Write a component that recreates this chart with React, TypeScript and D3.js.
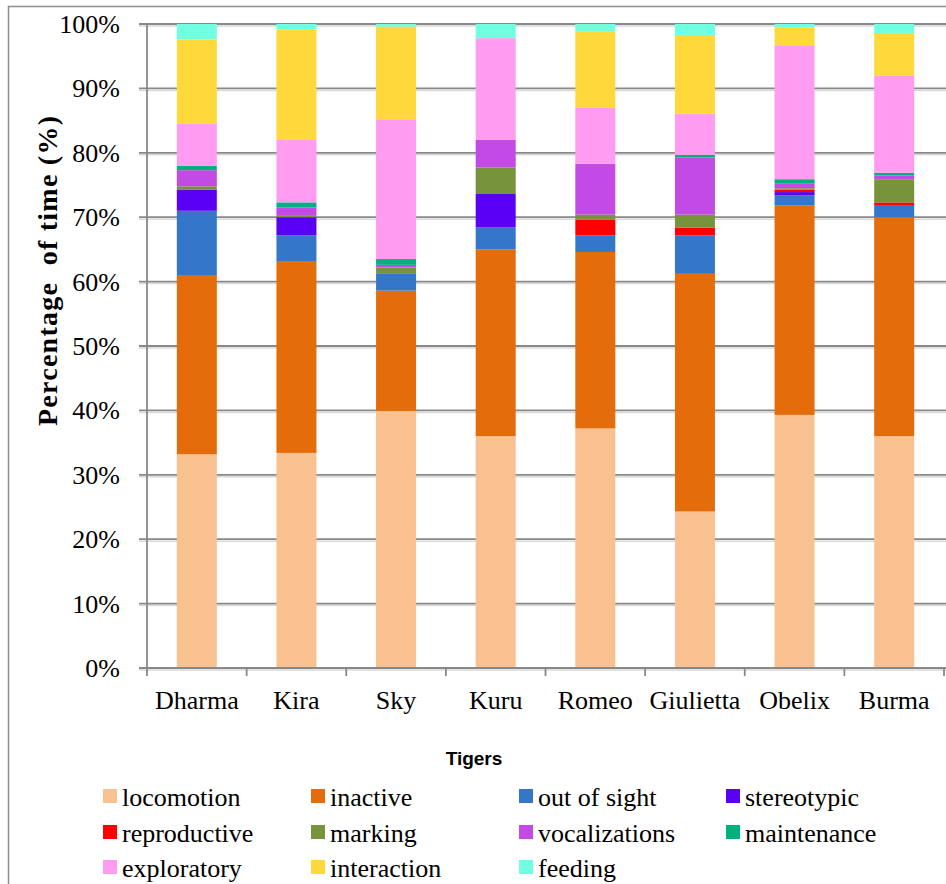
import React from "react";
import * as d3 from "d3";

// Tigers along the x axis
const tigers = ["Dharma", "Kira", "Sky", "Kuru", "Romeo", "Giulietta", "Obelix", "Burma"];

// Percentage of time per behaviour, one value per tiger (same order as `tigers`)
const locomotion = [33.2, 33.4, 39.9, 36.0, 37.2, 24.3, 39.3, 36.0];
const inactive = [27.7, 29.8, 18.7, 29.0, 27.4, 36.9, 32.5, 34.0];
const outOfSight = [10.1, 4.0, 2.7, 3.4, 2.6, 6.0, 1.6, 1.9];
const stereotypic = [3.3, 2.8, 0, 5.2, 0, 0, 0.5, 0];
const reproductive = [0, 0, 0, 0, 2.4, 1.2, 0.4, 0.4];
const marking = [0.5, 0.2, 0.9, 4.1, 0.8, 2.0, 0.2, 3.6];
const vocalizations = [2.5, 1.3, 0.4, 4.3, 7.9, 8.9, 0.7, 0.6];
const maintenance = [0.7, 0.8, 0.9, 0, 0, 0.4, 0.7, 0.4];
const exploratory = [6.5, 9.7, 21.7, 15.8, 8.7, 6.4, 20.8, 15.1];
const interaction = [13.1, 17.2, 14.4, 0, 11.9, 12.2, 2.8, 6.6];
const feeding = [2.4, 0.8, 0.4, 2.2, 1.1, 1.7, 0.5, 1.4];

const seriesNames = [
  "locomotion", "inactive", "out of sight", "stereotypic", "reproductive", "marking",
  "vocalizations", "maintenance", "exploratory", "interaction", "feeding",
];
const seriesValues = [
  locomotion, inactive, outOfSight, stereotypic, reproductive, marking,
  vocalizations, maintenance, exploratory, interaction, feeding,
];
const seriesColors = [
  "#F9C090", "#E46C0A", "#3477C8", "#5A00F5", "#FF0000", "#77933C",
  "#C44AE6", "#00B07E", "#FF9CF1", "#FFD83B", "#70FFE0",
];

const yTicks = [0, 10, 20, 30, 40, 50, 60, 70, 80, 90, 100];

const W = 946;
const H = 884;
const plotLeft = 147;
const plotRight = 944;
const serif = "'Liberation Serif', 'Times New Roman', serif";

export default function App() {
  const x = d3.scaleBand<string>().domain(tigers).range([plotLeft, plotRight]);
  const y = d3.scaleLinear().domain([0, 100]).range([668, 24]);

  const table = tigers.map((t, i) => {
    const row: Record<string, number | string> = { tiger: t };
    seriesNames.forEach((s, k) => (row[s] = seriesValues[k][i]));
    return row;
  });
  const stacked = d3.stack<Record<string, number | string>>().keys(seriesNames)(table as any);

  const barW = 40;
  const step = x.step();

  return (
    <svg width={W} height={H} style={{ display: "block", position: "absolute", left: 0, top: 0 }}>
      <rect x={0} y={0} width={W} height={H} fill="#fff" />
      <rect x={8.5} y={6.5} width={W + 20} height={H + 20} fill="none" stroke="#8c8c8c" strokeWidth={1.5} />

      {/* gridlines */}
      {yTicks.map((t) => (
        <g key={t}>
          <line x1={plotLeft - 8} x2={W} y1={y(t) + 2} y2={y(t) + 2} stroke="#d9d9d9" strokeWidth={1.5} />
          <line x1={plotLeft - 8} x2={W} y1={y(t)} y2={y(t)} stroke="#888" strokeWidth={1.8} />
        </g>
      ))}

      {/* stacked bars */}
      {stacked.map((layer, k) => (
        <g key={seriesNames[k]} fill={seriesColors[k]}>
          {layer.map((d, i) => {
            const h = y(d[0]) - y(d[1]);
            if (h <= 0) return null;
            const cx = (x(tigers[i]) as number) + x.bandwidth() / 2;
            return <rect key={i} x={cx - barW / 2} y={y(d[1])} width={barW} height={h} />;
          })}
        </g>
      ))}

      {/* axes */}
      <line x1={plotLeft} x2={plotLeft} y1={y(100)} y2={y(0)} stroke="#888" strokeWidth={1.8} />
      <line x1={plotLeft} x2={plotRight} y1={y(0)} y2={y(0)} stroke="#888" strokeWidth={1.8} />
      {d3.range(tigers.length + 1).map((i) => {
        const xx = plotLeft + i * step;
        return <line key={i} x1={xx} x2={xx} y1={y(0)} y2={y(0) + 8} stroke="#888" strokeWidth={1.8} />;
      })}

      {/* y tick labels */}
      {yTicks.map((t) => (
        <text key={t} x={120} y={y(t) + 9} textAnchor="end" fontFamily={serif} fontSize={26} fill="#000">
          {t}%
        </text>
      ))}

      {/* x tick labels */}
      {tigers.map((t) => (
        <text key={t} x={(x(t) as number) + x.bandwidth() / 2} y={709} textAnchor="middle" fontFamily={serif} fontSize={26} fill="#000">
          {t}
        </text>
      ))}

      {/* axis titles */}
      <text
        transform="translate(57,271) rotate(-90)"
        textAnchor="middle"
        fontFamily={serif}
        fontWeight="bold"
        fontSize={28}
        textLength={310}
        lengthAdjust="spacing"
        fill="#000"
        style={{ whiteSpace: "pre" }}
      >
        {"Percentage  of time (%)"}
      </text>
      <text x={474} y={765} textAnchor="middle" fontFamily="'Liberation Sans', Arial, sans-serif" fontWeight="bold" fontSize={19} fill="#000">
        Tigers
      </text>

      {/* legend */}
      {seriesNames.map((s, k) => {
        const colX = [103, 311, 519, 726][k % 4];
        const rowY = [789, 825, 860][Math.floor(k / 4)];
        return (
          <g key={s}>
            <rect x={colX} y={rowY} width={14} height={14} fill={seriesColors[k]} />
            <text x={colX + 19} y={rowY + 17} fontFamily={serif} fontSize={26} fill="#000">
              {s}
            </text>
          </g>
        );
      })}
    </svg>
  );
}
